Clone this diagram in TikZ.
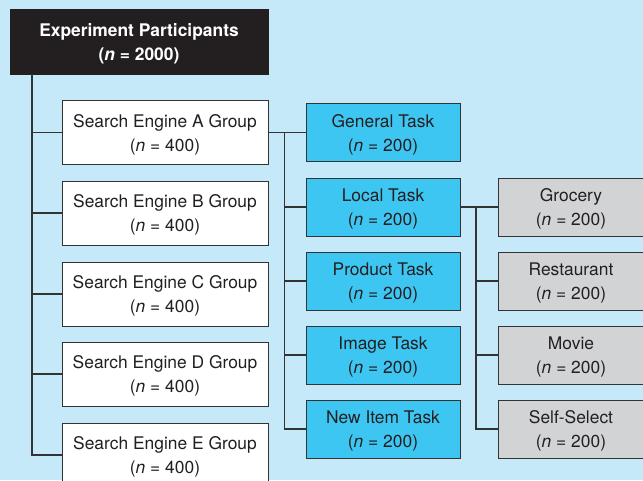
\documentclass[tikz,border=0pt]{standalone}
\usepackage{fontspec}
\setmainfont{TeX Gyre Heros}
\definecolor{bgblue}{HTML}{C6E9F9}
\definecolor{taskblue}{HTML}{3EC6F2}
\definecolor{graybox}{HTML}{D2D3D5}
\definecolor{ink}{HTML}{231F20}
\definecolor{lineink}{HTML}{333333}
\newcommand\lowerstrut{\rule{0pt}{16.8pt}}
\begin{document}
\begin{tikzpicture}[x=1pt,y=-1pt,
  basebox/.style={draw=lineink,line width=1pt,align=center,text=ink,
    font=\fontsize{17.4}{24}\selectfont,inner sep=0pt},
  headbox/.style={basebox,fill=ink,draw=ink,text=white,font=\fontsize{17.4}{24}\selectfont\bfseries,
    minimum width=258pt,minimum height=65pt},
  groupbox/.style={basebox,fill=white,minimum width=206pt,minimum height=64pt},
  taskbox/.style={basebox,fill=taskblue,minimum width=154pt,minimum height=58pt},
  subbox/.style={basebox,fill=graybox,minimum width=146pt,minimum height=58pt},
  conn/.style={draw=lineink,line width=1.2pt}]
\useasboundingbox (0,0) rectangle (643,480);
\fill[bgblue] (0,0) rectangle (643,480);
\clip (0,0) rectangle (643,480);

\node[headbox] (top) at (139,41.5) {\lowerstrut Experiment Participants\\(\textit{n} = 2000)};

\node[groupbox] (A) at (165,132.5) {\lowerstrut Search Engine A Group\\(\textit{n} = 400)};
\node[groupbox] (B) at (165,213) {\lowerstrut Search Engine B Group\\(\textit{n} = 400)};
\node[groupbox] (C) at (165,294) {\lowerstrut Search Engine C Group\\(\textit{n} = 400)};
\node[groupbox] (D) at (165,374) {\lowerstrut Search Engine D Group\\(\textit{n} = 400)};
\node[groupbox] (E) at (165,455) {\lowerstrut Search Engine E Group\\(\textit{n} = 400)};

\node[taskbox] (gen) at (383,132.5) {\lowerstrut General Task\\(\textit{n} = 200)};
\node[taskbox] (loc) at (383,207) {\lowerstrut Local Task\\(\textit{n} = 200)};
\node[taskbox] (prod) at (383,281) {\lowerstrut Product Task\\(\textit{n} = 200)};
\node[taskbox] (img) at (383,355) {\lowerstrut Image Task\\(\textit{n} = 200)};
\node[taskbox] (new) at (383,429) {\lowerstrut New Item Task\\(\textit{n} = 200)};

\node[subbox] (gro) at (571,207) {\lowerstrut Grocery\\(\textit{n} = 200)};
\node[subbox] (rest) at (571,281) {\lowerstrut Restaurant\\(\textit{n} = 200)};
\node[subbox] (mov) at (571,355) {\lowerstrut Movie\\(\textit{n} = 200)};
\node[subbox] (self) at (571,429) {\lowerstrut Self-Select\\(\textit{n} = 200)};

% trunk from participants
\coordinate (t0) at (32,74);
\draw[conn] (t0) |- (E.west);
\foreach \n in {A,B,C,D} \draw[conn] (t0 |- \n.west) -- (\n.west);

% tasks from group A
\draw[conn] (A.east) -- (gen.west);
\coordinate (b1) at (284.5,132.5);
\draw[conn] (b1) |- (new.west);
\foreach \n in {loc,prod,img} \draw[conn] (b1 |- \n.west) -- (\n.west);

% local subtasks
\draw[conn] (loc.east) -- (gro.west);
\coordinate (c1) at (476,207);
\draw[conn] (c1) |- (self.west);
\foreach \n in {rest,mov} \draw[conn] (c1 |- \n.west) -- (\n.west);
\end{tikzpicture}
\end{document}
